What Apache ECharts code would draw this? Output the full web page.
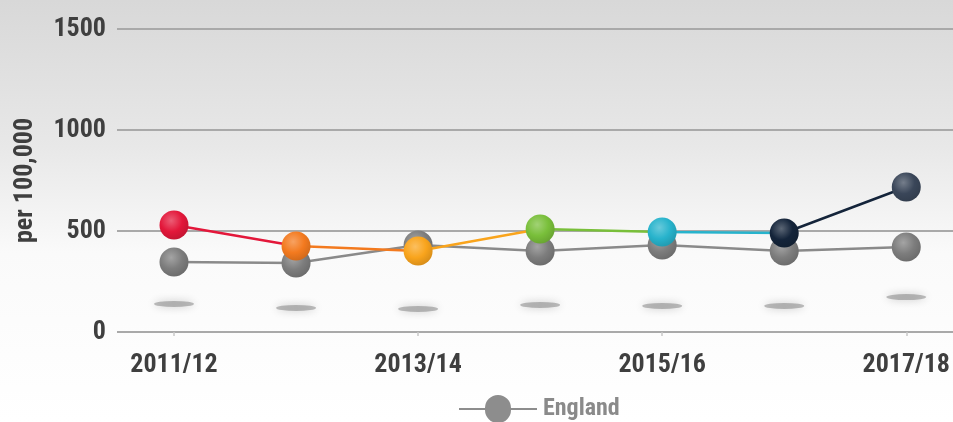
<!DOCTYPE html>
<html><head><meta charset="utf-8">
<script src="https://cdn.jsdelivr.net/npm/echarts@6/dist/echarts.min.js"></script>
<style>html,body{margin:0;padding:0;background:#fff}#c{width:953px;height:422px}</style>
</head><body><div id="c"></div>
<script>
const categories = ['2011/12','2012/13','2013/14','2014/15','2015/16','2016/17','2017/18'];
const localValues = [530, 426, 401, 510, 495, 490, 718];
const englandValues = [347, 342, 431, 401, 431, 401, 421];
const shadowValues = [139, 119, 114, 134, 129, 129, 173];
const pointColors = ['#e3173a','#f37a1f','#f9a41c','#79bf3a','#27b3cc','#14243a','#3a4659'];
const yTicks = [0, 500, 1000, 1500];

const FONT = '"Roboto Condensed","Open Sans",sans-serif';

function lighten(hex, a){
  const n = parseInt(hex.slice(1),16);
  let r=(n>>16)&255,g=(n>>8)&255,b=n&255;
  r=Math.round(r+(255-r)*a);g=Math.round(g+(255-g)*a);b=Math.round(b+(255-b)*a);
  return 'rgb('+r+','+g+','+b+')';
}
function darken(hex, a){
  const n = parseInt(hex.slice(1),16);
  let r=(n>>16)&255,g=(n>>8)&255,b=n&255;
  r=Math.round(r*(1-a));g=Math.round(g*(1-a));b=Math.round(b*(1-a));
  return 'rgb('+r+','+g+','+b+')';
}
function sphere(c){
  return new echarts.graphic.RadialGradient(0.4,0.35,0.7,[
    {offset:0,color:lighten(c,0.3)},{offset:0.55,color:c},{offset:1,color:darken(c,0.15)}]);
}
// hard-stop gradient: each segment gets the colour of its starting point
const segStops = [];
for (let i=0;i<categories.length-1;i++){
  segStops.push({offset:i/(categories.length-1),color:pointColors[i]});
  segStops.push({offset:(i+1)/(categories.length-1),color:pointColors[i]});
}
const legendIcon = 'path://M0,12 L26,12 A13,13 0 0 1 52,12 L78,12 L78,14 L52,14 A13,13 0 0 1 26,14 L0,14 Z';

const chart = echarts.init(document.getElementById('c'));
chart.setOption({
  backgroundColor: new echarts.graphic.LinearGradient(0,0,0,1,[
    {offset:0,color:'#d8d8d8'},{offset:0.35,color:'#e8e8e8'},{offset:0.6,color:'#fafafa'},{offset:1,color:'#ffffff'}]),
  animation:false,
  grid:[
    {left:117,right:0,top:29,bottom:90},
    {left:174,right:46,top:29,bottom:90}
  ],
  legend:{
    data:[{name:'England',icon:legendIcon}], left:454, top:390, itemWidth:78, itemHeight:28, itemGap:8,
    itemStyle:{color:'#8d8d8d',borderWidth:0},
    textStyle:{fontFamily:FONT,fontWeight:'bold',fontSize:24,color:'#8a8a8a',padding:[0,0,0,1]}
  },
  xAxis:[
    {gridIndex:0,type:'value',min:0,max:1,axisLine:{show:false},axisTick:{show:false},axisLabel:{show:false},splitLine:{show:false}},
    {gridIndex:1,type:'category',data:categories,boundaryGap:false,
     axisLine:{show:false},
     axisTick:{show:true,alignWithLabel:true,inside:false,length:4,lineStyle:{color:'#c8c8c8',width:1.5}},
     axisLabel:{interval:1,margin:20,fontFamily:FONT,fontWeight:'bold',fontSize:26,color:'#3f3f3f'},
     splitLine:{show:false}}
  ],
  yAxis:[
    {gridIndex:0,type:'value',min:yTicks[0],max:yTicks[yTicks.length-1],interval:500,
     name:'per 100,000',nameLocation:'middle',nameGap:79,nameRotate:90,
     nameTextStyle:{fontFamily:FONT,fontWeight:'bold',fontSize:26,color:'#3f3f3f'},
     axisLine:{show:false},axisTick:{show:false},
     axisLabel:{margin:11,formatter:v=>String(v),fontFamily:FONT,fontWeight:'bold',fontSize:26,color:'#3f3f3f'},
     splitLine:{show:true,lineStyle:{color:'#a9a9a9',width:2}}},
    {gridIndex:1,type:'value',min:yTicks[0],max:yTicks[yTicks.length-1],interval:500,
     axisLine:{show:false},axisTick:{show:false},axisLabel:{show:false},splitLine:{show:false}}
  ],
  series:[
    {name:'shadow',type:'scatter',xAxisIndex:1,yAxisIndex:1,data:shadowValues,
     symbol:'circle',symbolSize:[40,6],silent:true,z:1,
     itemStyle:{color:'rgba(110,110,110,0.55)',shadowBlur:8,shadowColor:'rgba(0,0,0,0.45)'}},
    {name:'England',type:'line',xAxisIndex:1,yAxisIndex:1,data:englandValues,
     symbol:'circle',symbolSize:29,z:3,
     lineStyle:{color:'#8a8a8a',width:2.5},
     itemStyle:{color:sphere('#7d7d7d'),borderWidth:0},
     emphasis:{disabled:true}},
    {name:'Local',type:'line',xAxisIndex:1,yAxisIndex:1,
     data:localValues.map((v,i)=>({value:v,itemStyle:{color:sphere(pointColors[i]),borderWidth:0}})),
     symbol:'circle',symbolSize:29,z:4,
     itemStyle:{borderWidth:0},
     lineStyle:{width:2.5,color:new echarts.graphic.LinearGradient(0,0,1,0,segStops)},
     emphasis:{disabled:true}}
  ]
});
</script></body></html>
